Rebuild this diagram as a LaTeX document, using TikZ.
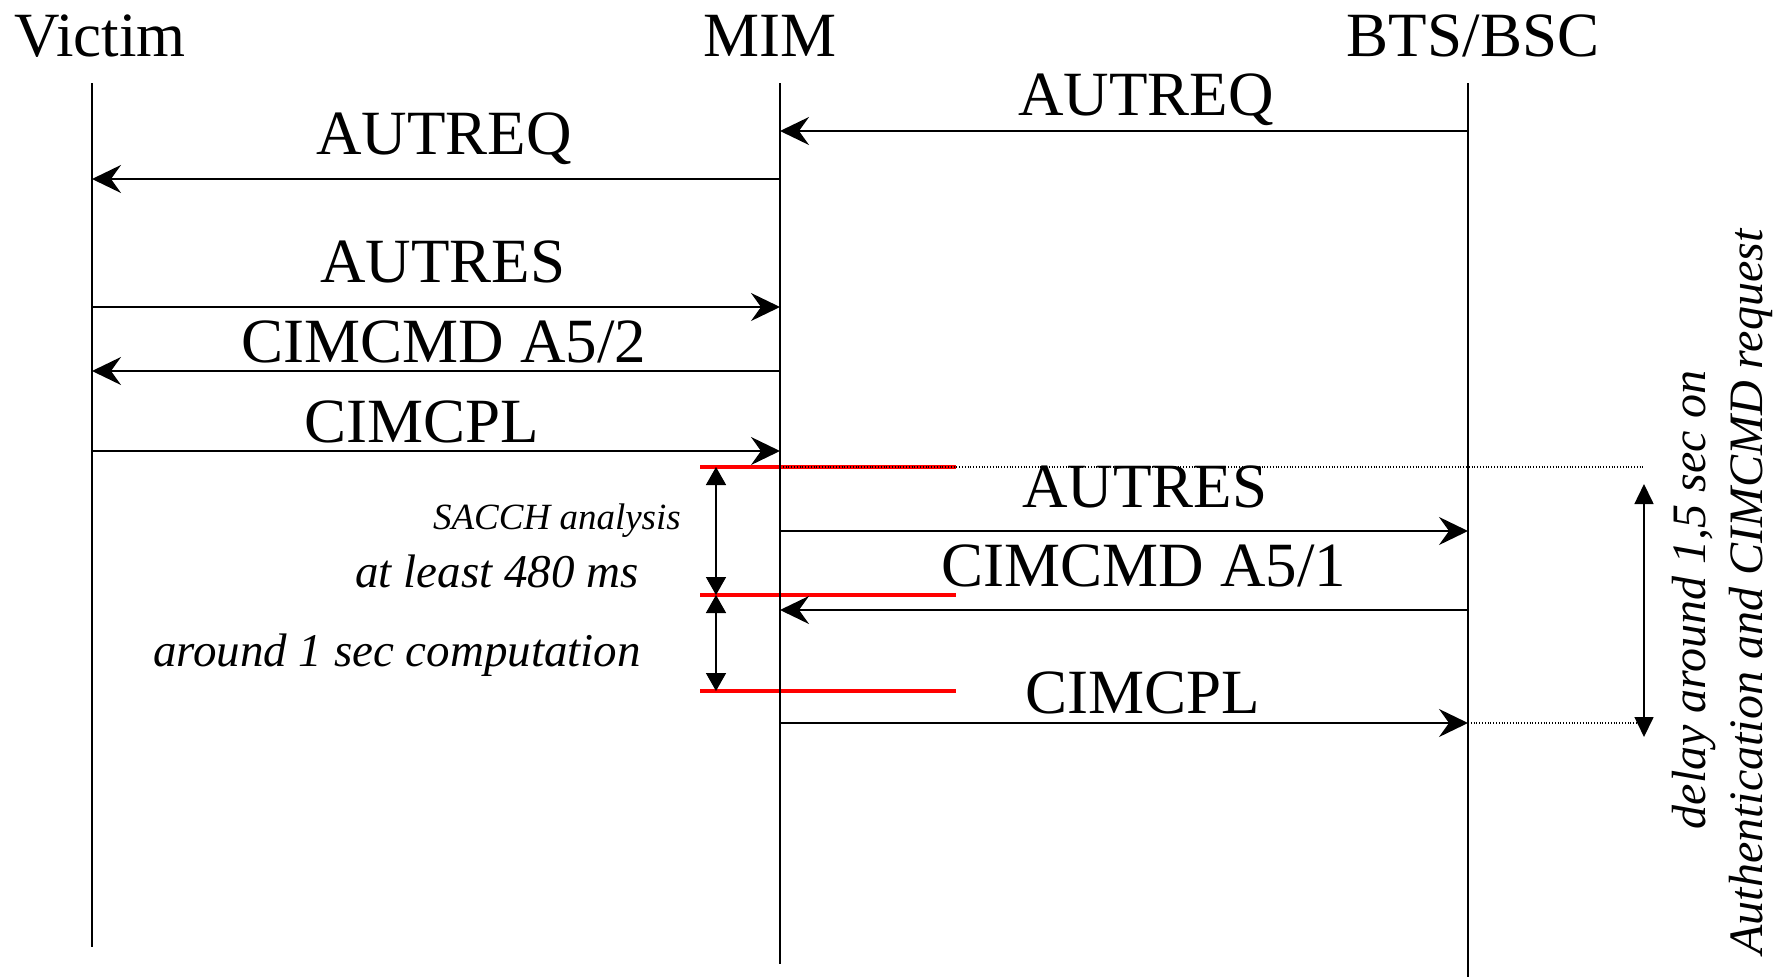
\documentclass[tikz,border=0pt]{standalone}
\usepackage{fontspec}
\setmainfont{Liberation Serif}
\usetikzlibrary{arrows.meta}
\begin{document}
\begin{tikzpicture}[x=1pt,y=-1pt,
  lifeline/.style={line width=1.6pt},
  msg/.style={line width=2pt,-{Stealth[length=29pt,width=28pt,inset=10pt]}},
  head/.style={font=\fontsize{63}{70}\selectfont, inner sep=0pt, anchor=base},
  lbl/.style={font=\fontsize{63}{70}\selectfont, inner sep=0pt, anchor=base},
  note/.style={font=\fontsize{47}{54}\selectfont\itshape, inner sep=0pt, anchor=base east},
  smallnote/.style={font=\fontsize{37}{44}\selectfont\itshape, inner sep=0pt, anchor=base east},
  rottext/.style={font=\fontsize{48}{56}\selectfont\itshape, inner sep=0pt, anchor=base, rotate=90},
  marker/.style={red, line width=4.7pt},
  spanarrow/.style={line width=1.6pt,{Triangle[length=18pt,width=20pt]}-{Triangle[length=18pt,width=20pt]}},
  guide/.style={line width=1.1pt, dash pattern=on 1pt off 1.8pt},
]
\useasboundingbox (0,0) rectangle (1780,977);

% headers
\node[head] (hV) at (100,56) {Victim};
\node[head] (hM) at (770,56) {MIM};
\node[head] (hB) at (1473,56) {BTS/BSC};

% lifeline ends
\coordinate (Vt) at (92,83);   \coordinate (Vb) at (92,947);
\coordinate (Mt) at (780,83);  \coordinate (Mb) at (780,964);
\coordinate (Bt) at (1468,83); \coordinate (Bb) at (1468,977);

% red markers
\coordinate (R1a) at (700,467); \coordinate (R1b) at (956,467);
\coordinate (R2a) at (700,595); \coordinate (R2b) at (956,595);
\coordinate (R3a) at (700,691); \coordinate (R3b) at (956,691);
\draw[marker] (R1a) -- (R1b);
\draw[marker] (R2a) -- (R2b);
\draw[marker] (R3a) -- (R3b);

% lifelines
\draw[lifeline] (Vt) -- (Vb);
\draw[lifeline] (Mt) -- (Mb);
\draw[lifeline] (Bt) -- (Bb);

% dotted guides
\coordinate (G1a) at (780,467);  \coordinate (G1b) at (1644,467);
\coordinate (G2a) at (1468,723); \coordinate (G2b) at (1644,723);
\draw[guide] (G1a) -- (G1b);
\draw[guide] (G2a) -- (G2b);

% message end points
\coordinate (B1) at (1468,131); \coordinate (M1) at (780,131);
\coordinate (M2) at (780,179);  \coordinate (V2) at (92,179);
\coordinate (V3) at (92,307);   \coordinate (M3) at (780,307);
\coordinate (M4) at (780,371);  \coordinate (V4) at (92,371);
\coordinate (V5) at (92,451);   \coordinate (M5) at (780,451);
\coordinate (M6) at (780,531);  \coordinate (B6) at (1468,531);
\coordinate (B7) at (1468,610); \coordinate (M7) at (780,610);
\coordinate (M8) at (780,723);  \coordinate (B8) at (1468,723);

\draw[msg] (B1) -- (M1);
\draw[msg] (M2) -- (V2);
\draw[msg] (V3) -- (M3);
\draw[msg] (M4) -- (V4);
\draw[msg] (V5) -- (M5);
\draw[msg] (M6) -- (B6);
\draw[msg] (B7) -- (M7);
\draw[msg] (M8) -- (B8);

% message labels
\node[lbl] (l1) at (1146,115) {AUTREQ};
\node[lbl] (l2) at (444,154) {AUTREQ};
\node[lbl] (l3) at (443,282) {AUTRES};
\node[lbl] (l4) at (444,362) {CIMCMD A5/2};
\node[lbl] (l5) at (422,442) {CIMCPL};
\node[lbl] (l6) at (1145,507) {AUTRES};
\node[lbl] (l7) at (1144,586) {CIMCMD A5/1};
\node[lbl] (l8) at (1143,713) {CIMCPL};

% timing spans
\coordinate (S1a) at (716,467); \coordinate (S1b) at (716,595);
\coordinate (S2a) at (716,595); \coordinate (S2b) at (716,691);
\draw[spanarrow] (S1a) -- (S1b);
\draw[spanarrow] (S2a) -- (S2b);
\coordinate (S3a) at (1644,484); \coordinate (S3b) at (1644,737);
\draw[line width=1.6pt,{Triangle[length=20pt,width=19pt]}-{Triangle[length=20pt,width=19pt]}] (S3a) -- (S3b);

% notes
\node[smallnote] (n1) at (681,529) {SACCH analysis};
\node[note] (n2) at (639,587) {at least 480 ms};
\node[note] (n3) at (641,666) {around 1 sec computation};

\node[rottext] (r1) at (1705,600) {delay around 1,5 sec on};
\node[rottext] (r2) at (1762,592) {Authentication and CIMCMD request};
\end{tikzpicture}
\end{document}
